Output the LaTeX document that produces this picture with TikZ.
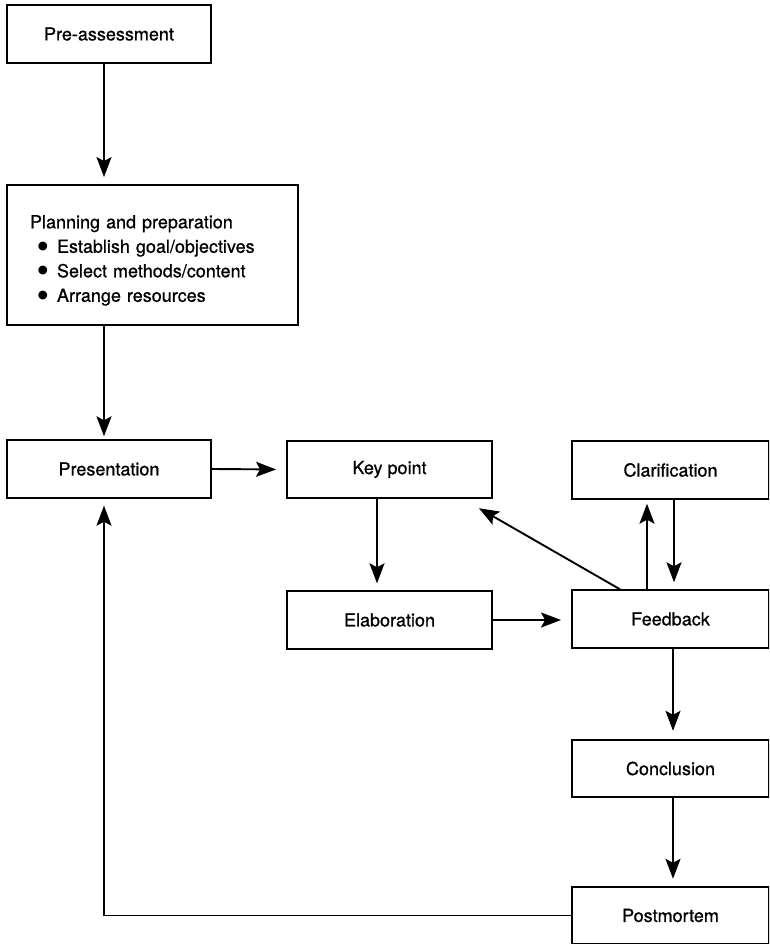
\documentclass[tikz,border=0pt]{standalone}
\usepackage{fontspec}
\setmainfont{TeX Gyre Heros}[FakeBold=0.8]
\newfontfamily\dotfont{DejaVu Sans}
\usetikzlibrary{arrows.meta}

\begin{document}
\begin{tikzpicture}[x=1pt, y=-1pt,
    box/.style={draw, line width=1.9pt, inner sep=0pt, minimum height=57.5pt,
        font=\fontsize{18}{24.5}\selectfont},
    flow/.style={-{Stealth[length=20pt,width=15pt,inset=4pt]}, line width=1.9pt, shorten >=7pt}]
    \useasboundingbox (0,0) rectangle (769,944);
    \clip (0,0) rectangle (769,944);
    \def\dotitem{\hspace*{7pt}\makebox[12pt]{\raisebox{3.5pt}{\dotfont\fontsize{11.5}{24.5}\selectfont ●}}\hspace{8pt}}

    % Left column
    \node[box, minimum width=204pt] (pre) at (109,34) {Pre-assessment};
    \node[box, minimum width=291pt, minimum height=140pt, text width=245pt, align=left] (plan) at (152.5,255) {\rule{0pt}{24pt}Planning and preparation\\
        \dotitem Establish goal/objectives\\
        \dotitem Select methods/content\\
        \dotitem Arrange resources};
    \node[box, minimum width=204pt] (pres) at (109,469) {Presentation};

    % Middle column
    \node[box, minimum width=205pt] (key) at (389.5,469.5) {Key point};
    \node[box, minimum width=205pt] (elab) at (389.5,620) {Elaboration};

    % Right column
    \node[box, minimum width=197pt] (clar) at (670.5,470) {Clarification};
    \node[box, minimum width=197pt] (feed) at (670.5,619) {Feedback};
    \node[box, minimum width=197pt] (conc) at (670.5,768.5) {Conclusion};
    \node[box, minimum width=197pt] (post) at (670.5,915.5) {Postmortem};

    % Arrows
    \draw[flow] ([xshift=-5pt]pre.south) -- ([xshift=-5pt]pre.south |- plan.north);
    \draw[flow, shorten >=3pt] ([xshift=-5pt]pres.north |- plan.south) -- ([xshift=-5pt]pres.north);
    \draw[flow, shorten >=10pt] (pres.east) -- (key.west);
    \draw[flow] ([xshift=-12.5pt]key.south) -- ([xshift=-12.5pt]elab.north);
    \draw[flow, shorten >=10pt] (elab.east) -- (elab.east -| feed.west);
    \draw[flow, shorten >=0pt] ([xshift=-50.5pt]feed.north) -- ([shift={(-14pt,-9pt)}]key.south east);
    \draw[flow, shorten >=4pt] ([xshift=-23.5pt]feed.north) -- ([xshift=-23.5pt]clar.south);
    \draw[flow] ([xshift=3.5pt]clar.south) -- ([xshift=3.5pt]feed.north);
    \draw[flow, shorten >=8pt] ([xshift=2.5pt]feed.south) -- ([xshift=2.5pt]conc.north);
    \draw[flow] ([xshift=2.5pt]conc.south) -- ([xshift=2.5pt]post.north);

    % Back to Presentation
    \draw[flow] (post.west) -| ([xshift=-5pt]pres.south);
\end{tikzpicture}
\end{document}
